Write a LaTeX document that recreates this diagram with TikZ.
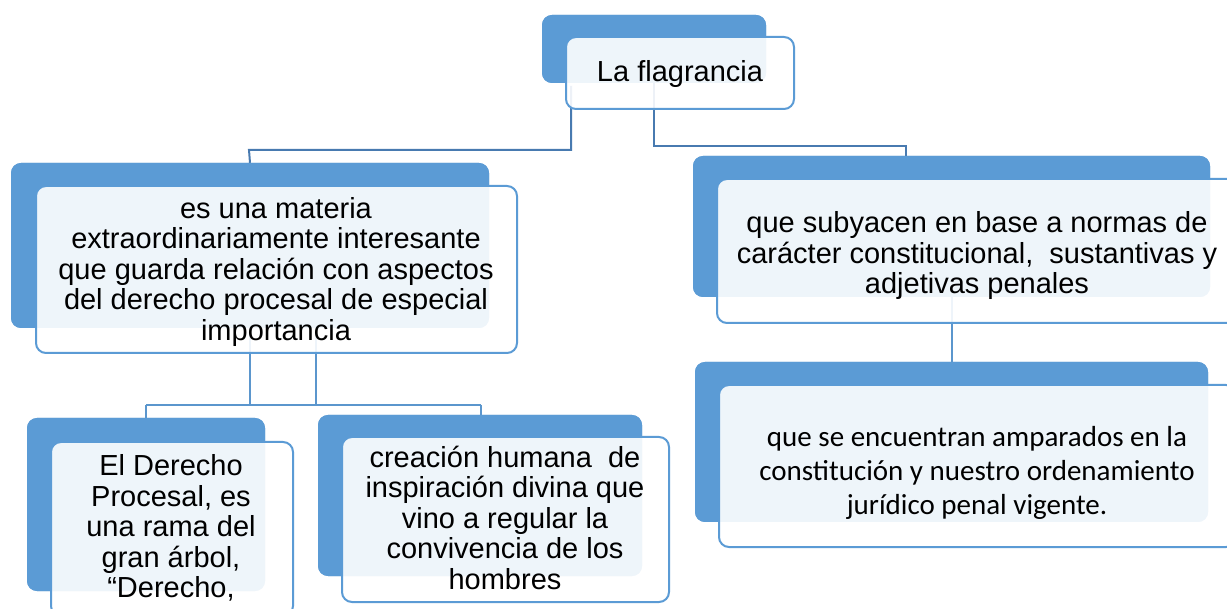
\documentclass[tikz,border=0pt]{standalone}
\usepackage{fontspec}
\setmainfont{Liberation Sans}
\newfontfamily\calib{Carlito}
\definecolor{boxblue}{RGB}{91,155,213}
\definecolor{linedark}{RGB}{72,122,176}
\definecolor{linelight}{RGB}{91,150,205}
\tikzset{
  backbox/.style={fill=boxblue, rounded corners=10pt, inner sep=0pt, draw=none},
  frontbox/.style={draw=boxblue, line width=2pt, fill=white, fill opacity=0.9, draw opacity=1, rounded corners=10pt, inner sep=0pt},
  lbl/.style={align=center, inner sep=0pt, text=black, font=\fontsize{29}{30.5}\selectfont},
  lblc/.style={align=center, inner sep=0pt, text=black, font=\calib\fontsize{29}{34}\selectfont},
  conn/.style={draw=linedark, line width=2pt},
  connb/.style={draw=linelight, line width=2pt}
}
\begin{document}
\begin{tikzpicture}[x=1pt,y=-1pt]
\useasboundingbox (0,0) rectangle (1227,609);
\clip (0,0) rectangle (1227,609);
\fill[white] (0,0) rectangle (1227,609);
% connector anchor points
\coordinate (c0) at (571,86);
\coordinate (j0a) at (249,150);
\coordinate (j0b) at (906,146);
\coordinate (c1) at (316,330);
\coordinate (j1) at (316,405);
\coordinate (j1l) at (146,405);
\coordinate (j1r) at (481,405);
% back boxes
\node[backbox, minimum width=224pt, minimum height=68pt] (tb) at (654,49) {};
\node[backbox, minimum width=478pt, minimum height=165pt] (lb) at (250,245.5) {};
\node[backbox, minimum width=517pt, minimum height=141pt] (rb) at (951.5,226.5) {};
\node[backbox, minimum width=513pt, minimum height=160pt] (rrb) at (951.5,442) {};
\node[backbox, minimum width=238pt, minimum height=173pt] (llb) at (146,504.5) {};
\node[backbox, minimum width=324pt, minimum height=161pt] (lmb) at (480,495.5) {};
% connectors
\draw[conn] (c0) |- (j0a) -- (lb.north);
\draw[conn] (tb.south) |- (j0b) -- (j0b |- rb.north);
\draw[connb] (lb.south) -- (lb.south |- j1l);
\draw[connb] (c1) -- (j1);
\draw[connb] (j1l) -- (j1r);
\draw[connb] (j1l) -- (llb.north);
\draw[connb] (j1r) -- (j1r |- lmb.north);
\draw[connb] (rb.south) -- (rrb.north);
% redraw back boxes over connectors
\node[backbox, minimum width=224pt, minimum height=68pt] at (tb) {};
\node[backbox, minimum width=478pt, minimum height=165pt] at (lb) {};
\node[backbox, minimum width=517pt, minimum height=141pt] at (rb) {};
\node[backbox, minimum width=513pt, minimum height=160pt] at (rrb) {};
\node[backbox, minimum width=238pt, minimum height=173pt] at (llb) {};
\node[backbox, minimum width=324pt, minimum height=161pt] at (lmb) {};
% front boxes
\node[frontbox, minimum width=228pt, minimum height=72pt] (tf) at (680,73) {};
\node[frontbox, minimum width=481pt, minimum height=167pt] (lf) at (276.5,269.5) {};
\node[frontbox, minimum width=521pt, minimum height=144pt] (rf) at (977.5,251) {};
\node[frontbox, minimum width=517pt, minimum height=162pt] (rrf) at (977.5,466) {};
\node[frontbox, minimum width=242pt, minimum height=174pt] (llf) at (172,529) {};
\node[frontbox, minimum width=327pt, minimum height=165pt] (lmf) at (505.5,519.5) {};
% texts
\node[lbl] (tt) at (680,74.5) {La flagrancia};
\node[lbl] (lt) at (276,272) {es una materia\\extraordinariamente interesante\\que guarda relación con aspectos\\del derecho procesal de especial\\importancia};
\node[lbl] (rt) at (977,256) {que subyacen en base a normas de\\carácter constitucional,\ \ sustantivas y\\adjetivas penales};
\node[lblc] (rrt) at (977,473) {que se encuentran amparados en la\\constitución y nuestro ordenamiento\\jurídico penal vigente.};
\node[lbl] (llt) at (171,528) {El Derecho\\Procesal, es\\una rama del\\gran árbol,\\“Derecho,};
\node[lbl] (lmt) at (505,517.5) {creación humana\ \ de\\inspiración divina que\\vino a regular la\\convivencia de los\\hombres};
\end{tikzpicture}
\end{document}
